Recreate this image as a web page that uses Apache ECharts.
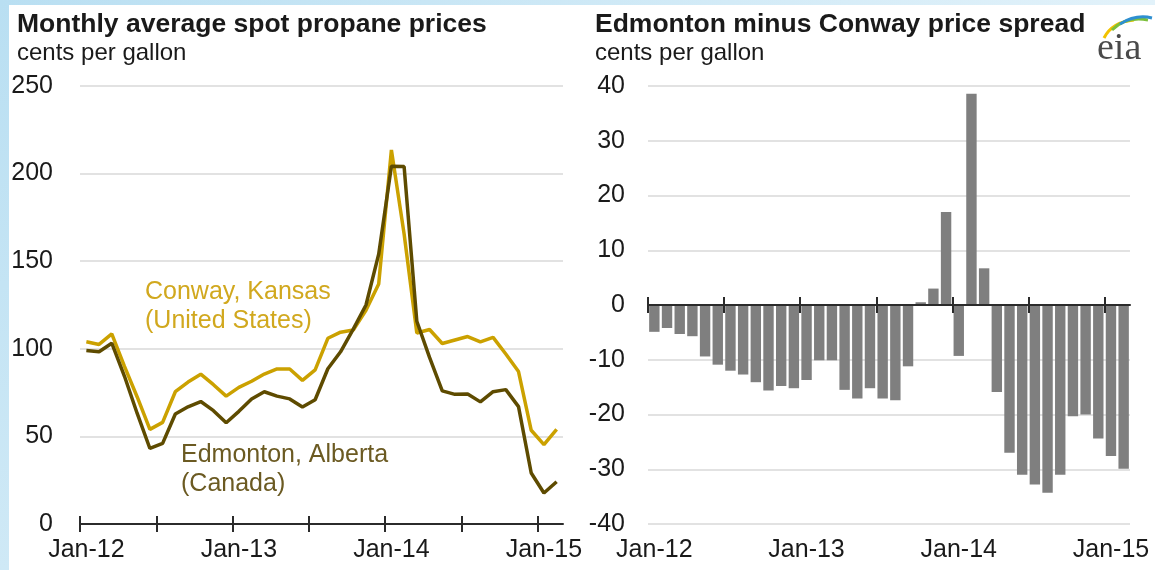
<!DOCTYPE html>
<html>
<head>
<meta charset="utf-8">
<script src="https://cdn.jsdelivr.net/npm/echarts@6/dist/echarts.min.js"></script>
<style>
  html, body { margin: 0; padding: 0; background: #fff; }
  #chart { width: 1155px; height: 570px; }
</style>
</head>
<body>
<div id="chart"></div>
<script>
// months Jan-12 .. Feb-15
const months = [
  'Jan-12', 'Feb-12', 'Mar-12', 'Apr-12', 'May-12', 'Jun-12', 'Jul-12', 'Aug-12', 'Sep-12', 'Oct-12', 'Nov-12', 'Dec-12',
  'Jan-13', 'Feb-13', 'Mar-13', 'Apr-13', 'May-13', 'Jun-13', 'Jul-13', 'Aug-13', 'Sep-13', 'Oct-13', 'Nov-13', 'Dec-13',
  'Jan-14', 'Feb-14', 'Mar-14', 'Apr-14', 'May-14', 'Jun-14', 'Jul-14', 'Aug-14', 'Sep-14', 'Oct-14', 'Nov-14', 'Dec-14',
  'Jan-15', 'Feb-15'
]

// cents per gallon
const conway = [
  104, 102.5, 108.5, 90, 72.5, 54, 58, 75.5, 81, 85.5, 79.5, 73,
  78, 81.5, 85.6, 88.5, 88.5, 82, 88, 106, 109.5, 110.7, 122, 137,
  213.5, 165.5, 109, 111, 103, 105, 107, 104, 106.5, 97, 87, 53.5,
  45.3, 54
]
const edmonton = [
  99, 98.3, 103.2, 84.3, 63.1, 43.1, 46, 62.8, 66.9, 69.9, 64.7, 57.8,
  64.3, 71.4, 75.5, 73, 71.4, 66.8, 70.9, 88.6, 98.3, 111.2, 125, 154,
  204.2, 204, 115.7, 95.1, 76, 74, 74.2, 69.7, 75.5, 76.7, 67, 29.1,
  17.7, 24.1
]
// Edmonton minus Conway
const spread = [
  -4.9, -4.2, -5.3, -5.7, -9.4, -10.9, -12.0, -12.7, -14.1, -15.6, -14.8, -15.2,
  -13.7, -10.1, -10.1, -15.5, -17.1, -15.2, -17.1, -17.4, -11.2, 0.5, 3.0, 17.0,
  -9.3, 38.6, 6.7, -15.9, -27.0, -31.0, -32.8, -34.3, -31.0, -20.3, -20.0, -24.4,
  -27.6, -29.9
]

// half-year tick marks (month boundaries), axis ranges
const tickPositions = [0, 6, 12, 18, 24, 30, 36]
const priceAxis = [0, 250, 50]     // min, max, step
const spreadAxis = [-40, 40, 10]

const FONT = '"Liberation Sans", Arial, sans-serif'
const TXT = '#1a1a1a'
const GRID_LINE = '#d9d9d9'
const AXIS = '#2b2b2b'

const chart = echarts.init(document.getElementById('chart'))

// category axis: carries the series and the Jan labels
const catAxis = (gridIndex) => ({
  gridIndex,
  type: 'category',
  data: months,
  position: 'bottom',
  boundaryGap: true,
  axisLine: { show: false, onZero: false },
  axisTick: { show: false },
  axisLabel: { interval: 11, fontSize: 25, color: TXT, fontFamily: FONT, margin: 14 },
  splitLine: { show: false }
})

// month-boundary axis for the ticks, drawn twice so ticks cross the line
const tickAxis = (gridIndex, inside, showLine) => ({
  gridIndex,
  type: 'value',
  min: 0,
  max: months.length,
  interval: 6,
  position: 'bottom',
  z: 10,
  axisLine: { show: showLine, onZero: true, onZeroAxisIndex: gridIndex, lineStyle: { color: AXIS, width: 2 } },
  axisTick: { show: true, inside, customValues: tickPositions, length: 8, lineStyle: { color: AXIS, width: 2 } },
  axisLabel: { show: false },
  splitLine: { show: false }
})

chart.setOption({
  animation: false,
  title: [
    {
      text: 'Monthly average spot propane prices',
      subtext: 'cents per gallon',
      left: 12, top: 6, itemGap: 3,
      textStyle: { fontSize: 26.5, fontWeight: 'bold', color: TXT, fontFamily: FONT },
      subtextStyle: { fontSize: 24, color: TXT, fontFamily: FONT }
    },
    {
      text: 'Edmonton minus Conway price spread',
      subtext: 'cents per gallon',
      left: 590, top: 6, itemGap: 3,
      textStyle: { fontSize: 26.5, fontWeight: 'bold', color: TXT, fontFamily: FONT },
      subtextStyle: { fontSize: 24, color: TXT, fontFamily: FONT }
    }
  ],
  grid: [
    { left: 80, top: 86, width: 483, height: 438 },
    { left: 648, top: 86, width: 482, height: 438 }
  ],
  xAxis: [
    catAxis(0),
    tickAxis(0, false, true),
    tickAxis(0, true, false),
    catAxis(1),
    tickAxis(1, false, true),
    tickAxis(1, true, false)
  ],
  yAxis: [
    {
      gridIndex: 0, type: 'value',
      min: priceAxis[0], max: priceAxis[1], interval: priceAxis[2],
      axisLine: { show: false }, axisTick: { show: false },
      axisLabel: { fontSize: 25, color: TXT, fontFamily: FONT, margin: 27 },
      splitLine: { lineStyle: { color: GRID_LINE, width: 1.5 } }
    },
    {
      gridIndex: 1, type: 'value',
      min: spreadAxis[0], max: spreadAxis[1], interval: spreadAxis[2],
      axisLine: { show: false }, axisTick: { show: false },
      axisLabel: { fontSize: 25, color: TXT, fontFamily: FONT, margin: 23 },
      splitLine: { lineStyle: { color: GRID_LINE, width: 1.5 } }
    }
  ],
  series: [
    {
      name: 'Conway, Kansas', type: 'line', xAxisIndex: 0, yAxisIndex: 0,
      data: conway, symbol: 'none', z: 3,
      lineStyle: { color: '#cba100', width: 3.5 }
    },
    {
      name: 'Edmonton, Alberta', type: 'line', xAxisIndex: 0, yAxisIndex: 0,
      data: edmonton, symbol: 'none', z: 4,
      lineStyle: { color: '#5e4b00', width: 3.5 }
    },
    {
      name: 'spread', type: 'bar', xAxisIndex: 3, yAxisIndex: 1,
      data: spread, barCategoryGap: '18%',
      itemStyle: { color: '#7f7f7f' }
    }
  ],
  graphic: [
    // light blue frame on the left and top
    {
      type: 'rect', left: 0, top: 0, z: 100,
      shape: { width: 9, height: 570 },
      style: { fill: new echarts.graphic.LinearGradient(0, 0, 0, 1, [
        { offset: 0, color: '#b9dff2' }, { offset: 1, color: '#cfe9f6' }
      ]) }
    },
    {
      type: 'rect', left: 0, top: 0, z: 100,
      shape: { width: 1155, height: 5 },
      style: { fill: new echarts.graphic.LinearGradient(0, 0, 1, 0, [
        { offset: 0, color: '#b9dff2' }, { offset: 1, color: '#e2f2fa' }
      ]) }
    },
    // series labels
    {
      type: 'text', x: 145, y: 278, z: 50,
      style: {
        text: 'Conway, Kansas\n(United States)',
        fontSize: 25, lineHeight: 29, fontFamily: FONT, fill: '#d1a81e'
      }
    },
    {
      type: 'text', x: 181, y: 441, z: 50,
      style: {
        text: 'Edmonton, Alberta\n(Canada)',
        fontSize: 25, lineHeight: 29, fontFamily: FONT, fill: '#6b5a22'
      }
    },
    // eia logo
    {
      type: 'bezierCurve', z: 50,
      shape: { x1: 1104, y1: 38, cpx1: 1112, cpy1: 22, x2: 1134, y2: 20 },
      style: { stroke: '#f2c300', lineWidth: 3, fill: null }
    },
    {
      type: 'bezierCurve', z: 50,
      shape: { x1: 1112, y1: 30, cpx1: 1126, cpy1: 16, x2: 1148, y2: 20 },
      style: { stroke: '#7cbf3b', lineWidth: 3, fill: null }
    },
    {
      type: 'bezierCurve', z: 50,
      shape: { x1: 1120, y1: 24, cpx1: 1136, cpy1: 14, x2: 1152, y2: 18 },
      style: { stroke: '#2e8fd0', lineWidth: 3, fill: null }
    },
    {
      type: 'text', x: 1097, y: 30, z: 50,
      style: { text: 'eia', fontSize: 38, fontFamily: '"Liberation Serif", "DejaVu Serif", serif', fill: '#4a4a4a' }
    }
  ]
})
</script>
</body>
</html>
